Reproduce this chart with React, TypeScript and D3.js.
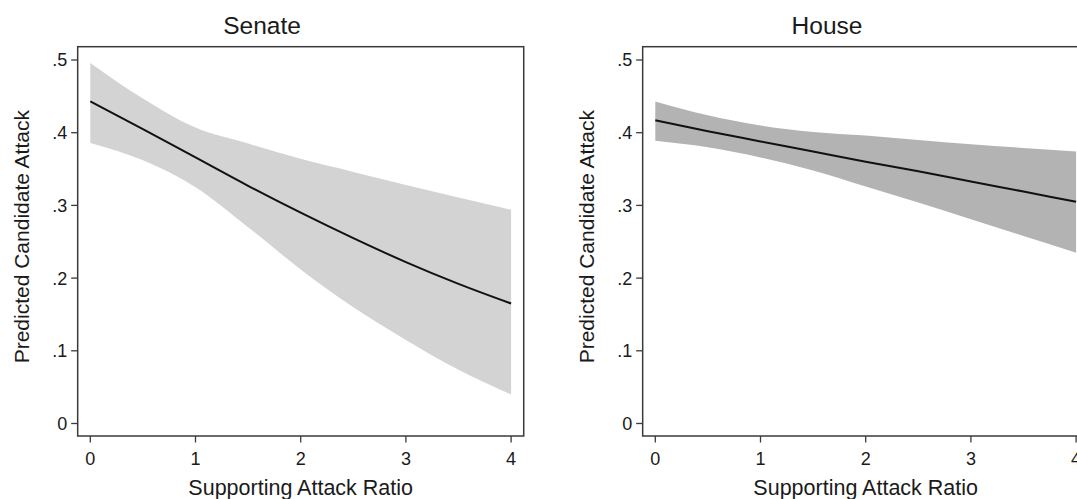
import React from 'react';
import * as d3 from 'd3';

// values (x = supporting attack ratio)
const ratio = [0, 0.5, 1, 1.5, 2, 2.5, 3, 3.5, 4];

const senateFit = [0.443, 0.405, 0.366, 0.327, 0.29, 0.255, 0.222, 0.192, 0.165];
const senateUpper = [0.496, 0.447, 0.407, 0.385, 0.364, 0.346, 0.328, 0.311, 0.294];
const senateLower = [0.386, 0.362, 0.325, 0.27, 0.212, 0.16, 0.115, 0.074, 0.04];

const houseFit = [0.417, 0.402, 0.388, 0.374, 0.36, 0.347, 0.333, 0.319, 0.305];
const houseUpper = [0.443, 0.424, 0.41, 0.401, 0.396, 0.39, 0.384, 0.379, 0.374];
const houseLower = [0.389, 0.38, 0.366, 0.348, 0.326, 0.304, 0.281, 0.258, 0.235];

const xTicks = [0, 1, 2, 3, 4];
const yTicks = [0, 0.1, 0.2, 0.3, 0.4, 0.5];
const yTickLabels = ['0', '.1', '.2', '.3', '.4', '.5'];

const width = 1077;
const height = 499;
const font = '"Liberation Sans", Arial, Helvetica, sans-serif';

const yScale = d3.scaleLinear().domain([0, 0.5]).range([423.5, 60]);
const frameTop = 46.7;
const frameBottom = 436;

type PanelProps = {
  dx: number;
  title: string;
  fit: number[];
  upper: number[];
  lower: number[];
  fill: string;
};

const Panel = ({ dx, title, fit, upper, lower, fill }: PanelProps) => {
  const x = d3.scaleLinear().domain([0, 4]).range([90.3 + dx, 511.1 + dx]);
  const frameLeft = x(-0.12);
  const frameRight = x(4.12);

  const rows = ratio.map((r, i) => ({ r, fit: fit[i], hi: upper[i], lo: lower[i] }));
  const band = d3.area<typeof rows[0]>()
    .x(d => x(d.r))
    .y0(d => yScale(d.lo))
    .y1(d => yScale(d.hi))
    .curve(d3.curveMonotoneX);
  const line = d3.line<typeof rows[0]>()
    .x(d => x(d.r))
    .y(d => yScale(d.fit))
    .curve(d3.curveMonotoneX);

  return (
    <g fontFamily={font} fill="#1a1a1a">
      <text x={262 + dx} y={34.3} fontSize={24.5} textAnchor="middle">{title}</text>

      <path d={band(rows) || ''} fill={fill} stroke="none" />
      <path d={line(rows) || ''} fill="none" stroke="#111" strokeWidth={2} />

      <rect x={frameLeft} y={frameTop} width={frameRight - frameLeft} height={frameBottom - frameTop}
        fill="none" stroke="#3a3a3a" strokeWidth={1.5} />

      {yTicks.map((t, i) => (
        <g key={t}>
          <line x1={frameLeft - 6.5} x2={frameLeft} y1={yScale(t)} y2={yScale(t)} stroke="#3a3a3a" strokeWidth={1.3} />
          <text x={frameLeft - 10.5} y={yScale(t)} dy="0.36em" fontSize={18} textAnchor="end">{yTickLabels[i]}</text>
        </g>
      ))}

      {xTicks.map(t => (
        <g key={t}>
          <line x1={x(t)} x2={x(t)} y1={frameBottom} y2={frameBottom + 6.5} stroke="#3a3a3a" strokeWidth={1.3} />
          <text x={x(t)} y={464.5} fontSize={18} textAnchor="middle">{t}</text>
        </g>
      ))}

      <text x={x(2)} y={495} fontSize={21.5} textAnchor="middle">Supporting Attack Ratio</text>
      <text transform={`translate(${29 + dx},236.7) rotate(-90)`} fontSize={21} textAnchor="middle">
        Predicted Candidate Attack
      </text>
    </g>
  );
};

export default function App() {
  return (
    <svg width={width} height={height} style={{ position: 'absolute', left: 0, top: 0, background: '#fff' }}>
      <rect width={width} height={height} fill="#fff" />
      <Panel dx={0} title="Senate" fit={senateFit} upper={senateUpper} lower={senateLower} fill="#d3d3d3" />
      <Panel dx={565} title="House" fit={houseFit} upper={houseUpper} lower={houseLower} fill="#b3b3b3" />
    </svg>
  );
}
